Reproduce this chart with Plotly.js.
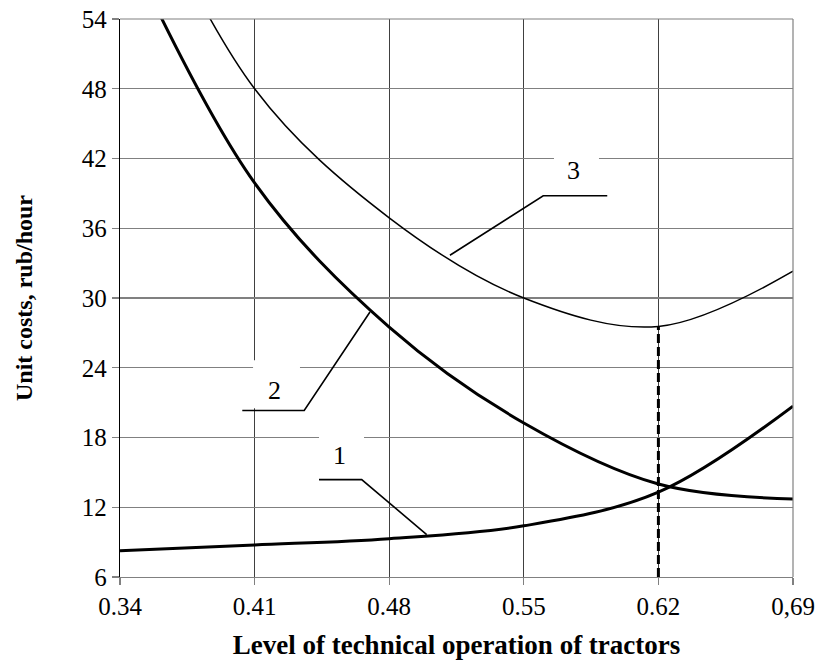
<!DOCTYPE html>
<html>
<head>
<meta charset="utf-8">
<script src="https://cdn.plot.ly/plotly-3.0.1.min.js"></script>
<style>html,body{margin:0;padding:0;background:#fff;}#chart{width:817px;height:660px;}</style>
</head>
<body>
<div id="chart"></div>
<script>
// ---- data (values at the x ticks, smoothed line) ----
const levelX = [0.34, 0.41, 0.48, 0.55, 0.62, 0.69];
const curve1Y = [8.25, 8.75, 9.3, 10.4, 13.3, 20.7];
const curve2Y = [61.5, 39.9, 27.5, 19.25, 14.0, 12.7];
const curve3Y = [69.7, 48.0, 36.9, 30.0, 27.55, 32.3];

const optimumIndex = 4; // dashed line at the minimum of curve 3 (x = 0.62)

const xTickText = ["0.34", "0.41", "0.48", "0.55", "0.62", "0,69"];
const yTickVals = [6, 12, 18, 24, 30, 36, 42, 48, 54];
const yTickText = ["6", "12", "18", "24", "30", "36", "42", "48", "54"];

const curveLabels = ["1", "2", "3"];
const labelX = [0.4544, 0.4206, 0.5756];
const labelY = [16.47, 22.07, 41.0];
// label boxes [x0, x1, y0, y1]
const boxX0 = [0.4435, 0.4092, 0.5657];
const boxX1 = [0.4669, 0.4336, 0.5891];
const boxY0 = [14.58, 20.52, 39.02];
const boxY1 = [18.80, 24.65, 42.89];
// leader polylines (3 points each)
const leaderX = [[0.4435, 0.4657, 0.4995], [0.4036, 0.4358, 0.4700], [0.5934, 0.5601, 0.5116]];
const leaderY = [[14.38, 14.38, 9.65], [20.32, 20.32, 28.80], [38.79, 38.79, 33.68]];

// ---- chart ----
const FONT = "'Liberation Serif', 'Times New Roman', serif";
const yMin = yTickVals[0];
const traces = [
  {x: levelX, y: curve1Y, mode: 'lines', line: {color: '#000', width: 3, shape: 'spline', smoothing: 1}, hoverinfo: 'skip'},
  {x: levelX, y: curve2Y, mode: 'lines', line: {color: '#000', width: 3, shape: 'spline', smoothing: 1}, hoverinfo: 'skip'},
  {x: levelX, y: curve3Y, mode: 'lines', line: {color: '#000', width: 1.5, shape: 'spline', smoothing: 1}, hoverinfo: 'skip'},
  {x: [levelX[optimumIndex], levelX[optimumIndex]], y: [yMin, curve3Y[optimumIndex]], mode: 'lines',
   line: {color: '#000', width: 3, dash: '9px,4px'}, hoverinfo: 'skip'}
];

const shapes = [
  {type: 'line', xref: 'paper', yref: 'paper', x0: 0, x1: 1, y0: 1, y1: 1, line: {color: '#808080', width: 1.2}},
  {type: 'line', xref: 'paper', yref: 'paper', x0: 1, x1: 1, y0: 0, y1: 1, line: {color: '#808080', width: 1.2}}
];
const annotations = [];
for (let i = 0; i < curveLabels.length; i++) {
  shapes.push({type: 'rect', xref: 'x', yref: 'y', x0: boxX0[i], x1: boxX1[i], y0: boxY0[i], y1: boxY1[i],
    fillcolor: '#fff', line: {width: 0}, layer: 'above'});
  const px = leaderX[i], py = leaderY[i];
  shapes.push({type: 'path', xref: 'x', yref: 'y', layer: 'above',
    path: 'M ' + px[0] + ',' + py[0] + ' L ' + px[1] + ',' + py[1] + ' L ' + px[2] + ',' + py[2],
    line: {color: '#000', width: 1.6}});
  annotations.push({x: labelX[i], y: labelY[i], xref: 'x', yref: 'y', text: curveLabels[i], showarrow: false,
    font: {family: FONT, size: 26, color: '#000'}});
}

const layout = {
  width: 817, height: 660,
  margin: {l: 120, r: 24, t: 19, b: 83},
  paper_bgcolor: '#fff', plot_bgcolor: '#fff',
  showlegend: false,
  font: {family: FONT, color: '#000'},
  xaxis: {
    range: [levelX[0], levelX[levelX.length - 1]], tickvals: levelX, ticktext: xTickText,
    showgrid: true, gridcolor: '#404040', gridwidth: 1,
    showline: true, linecolor: '#808080', linewidth: 1.2,
    ticks: 'outside', ticklen: 7, tickcolor: '#808080', tickwidth: 1.2,
    tickfont: {family: FONT, size: 25, color: '#000'},
    zeroline: false, automargin: false, fixedrange: true,
    title: {text: 'Level of technical operation of tractors', font: {family: FONT, size: 27, color: '#000', weight: 'bold'}, standoff: 20}
  },
  yaxis: {
    range: [yTickVals[0], yTickVals[yTickVals.length - 1]], tickvals: yTickVals, ticktext: yTickText,
    showgrid: true, gridcolor: '#808080', gridwidth: 1.2,
    showline: true, linecolor: '#000', linewidth: 1.2,
    ticks: 'outside', ticklen: 7, tickcolor: '#808080', tickwidth: 1.2,
    tickfont: {family: FONT, size: 25, color: '#000'},
    zeroline: false, automargin: false, fixedrange: true,
    title: {text: 'Unit costs, rub/hour', font: {family: FONT, size: 24, color: '#000', weight: 'bold'}, standoff: 42}
  },
  shapes: shapes,
  annotations: annotations
};

Plotly.newPlot('chart', traces, layout, {staticPlot: true, displayModeBar: false});
</script>
</body>
</html>
